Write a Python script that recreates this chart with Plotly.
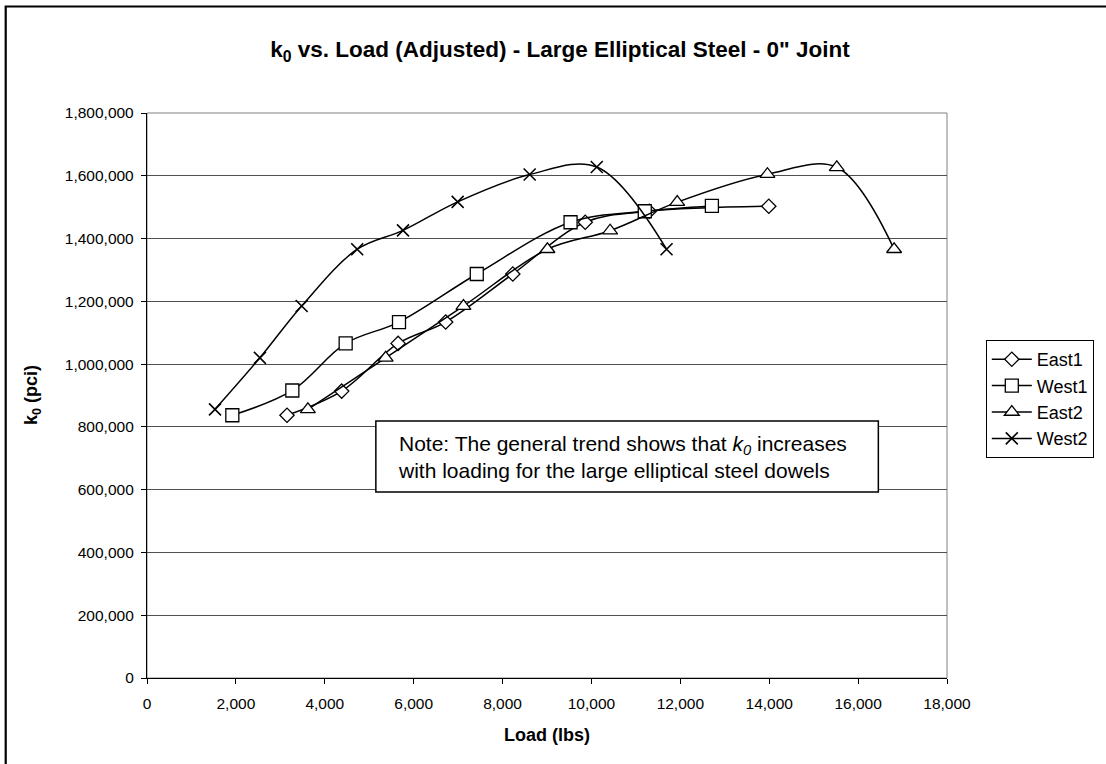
import plotly.graph_objects as go

# ---- data ----
east1_load = [3150, 4380, 5650, 6720, 8230, 9860, 11300, 13990]
east1_k0 = [837000, 914000, 1066000, 1134000, 1287000, 1452000, 1487000, 1503000]

west1_load = [1920, 3270, 4470, 5670, 7420, 9530, 11200, 12710]
west1_k0 = [837000, 916000, 1066000, 1134000, 1287000, 1452000, 1487000, 1504000]

east2_load = [3620, 5370, 7120, 9010, 10420, 11930, 13960, 15520, 16810]
east2_k0 = [856000, 1020000, 1185000, 1366000, 1425000, 1516000, 1605000, 1627000, 1366000]

west2_load = [1530, 2540, 3480, 4730, 5760, 6990, 8610, 10120, 11690]
west2_k0 = [856000, 1020000, 1185000, 1366000, 1426000, 1517000, 1604000, 1628000, 1366000]

x_ticks = list(range(0, 18001, 2000))
y_ticks = list(range(0, 1800001, 200000))

W, H = 1106, 764
L, R, T, B = 147, 155, 113, 86
PW, PH = W - L - R, H - T - B
FONT = "Arial, Liberation Sans, sans-serif"


def px(xp):
    return (xp - L) / PW


def py(yp):
    return (H - B - yp) / PH


fig = go.Figure()

series = [
    ("East1", east1_load, east1_k0, "diamond", 11, 1.3),
    ("West1", west1_load, west1_k0, "square", 13, 1.3),
    ("East2", east2_load, east2_k0, "triangle-up", 13, 1.3),
    ("West2", west2_load, west2_k0, "x-thin", 12, 1.6),
]
for name, xs, ys, sym, size, lw in series:
    fig.add_trace(go.Scatter(
        x=xs, y=ys, name=name, mode="lines+markers",
        line=dict(color="black", width=1.5, shape="spline", smoothing=1.0),
        marker=dict(symbol=sym, size=size, color="white",
                    line=dict(color="black", width=lw)),
    ))

shapes = [
    # plot area border (gray)
    dict(type="rect", xref="paper", yref="paper", x0=0, x1=1, y0=0, y1=1,
         line=dict(color="#808080", width=1), layer="below"),
    # chart outer border (left/top visible)
    dict(type="rect", xref="paper", yref="paper",
         x0=px(5), x1=px(W + 10), y0=py(H + 10), y1=py(6.5),
         line=dict(color="black", width=2.2)),
    # note box
    dict(type="rect", xref="paper", yref="paper",
         x0=px(377), x1=px(882), y0=py(492), y1=py(421),
         line=dict(color="black", width=1.5), fillcolor="white"),
]

annotations = [
    dict(xref="paper", yref="paper", x=px(397), y=py(457), xanchor="left", yanchor="middle",
         align="left", showarrow=False,
         text="Note: The general trend shows that <i>k<sub>0</sub></i> increases<br>"
              "with loading for the large elliptical steel dowels",
         font=dict(family=FONT, size=21, color="black")),
    dict(xref="paper", yref="paper", x=0.5, y=py(735), xanchor="center", yanchor="middle",
         showarrow=False, text="<b>Load (lbs)</b>",
         font=dict(family=FONT, size=18, color="black")),
    dict(xref="paper", yref="paper", x=px(32), y=0.5, xanchor="center", yanchor="middle",
         showarrow=False, textangle=-90, text="<b>k<sub>0</sub> (pci)</b>",
         font=dict(family=FONT, size=18, color="black")),
]

fig.update_layout(
    width=W, height=H,
    margin=dict(l=L, r=R, t=T, b=B, pad=0),
    paper_bgcolor="white", plot_bgcolor="white",
    font=dict(family=FONT, size=15, color="black"),
    title=dict(text="<b>k<sub>0</sub> vs. Load (Adjusted) - Large Elliptical Steel - 0\" Joint</b>",
               x=560 / W, xanchor="center", xref="container",
               y=1 - 49 / H, yanchor="middle", yref="container",
               font=dict(family=FONT, size=22.5, color="black")),
    xaxis=dict(range=[0, 18000], tickvals=x_ticks,
               ticktext=[f"{v:,}" for v in x_ticks],
               showgrid=False, zeroline=False,
               showline=True, linecolor="black", linewidth=1.3,
               ticks="outside", ticklen=5, tickcolor="black", tickwidth=1,
               ticklabelstandoff=6,
               tickfont=dict(family=FONT, size=15.5, color="black")),
    yaxis=dict(range=[0, 1800000], tickvals=y_ticks,
               ticktext=[f"{v:,}" for v in y_ticks],
               showgrid=True, gridcolor="#505050", gridwidth=1, zeroline=False,
               showline=True, linecolor="black", linewidth=1.3,
               ticks="outside", ticklen=5, tickcolor="black", tickwidth=1,
               ticklabelstandoff=4,
               tickfont=dict(family=FONT, size=15.5, color="black")),
    legend=dict(x=px(990), y=py(340), xanchor="left", yanchor="top",
                bordercolor="black", borderwidth=1, bgcolor="white",
                font=dict(family=FONT, size=18, color="black"),
                itemwidth=40, tracegroupgap=0),
    shapes=shapes,
    annotations=annotations,
    showlegend=True,
)

fig.write_html("out.html")
